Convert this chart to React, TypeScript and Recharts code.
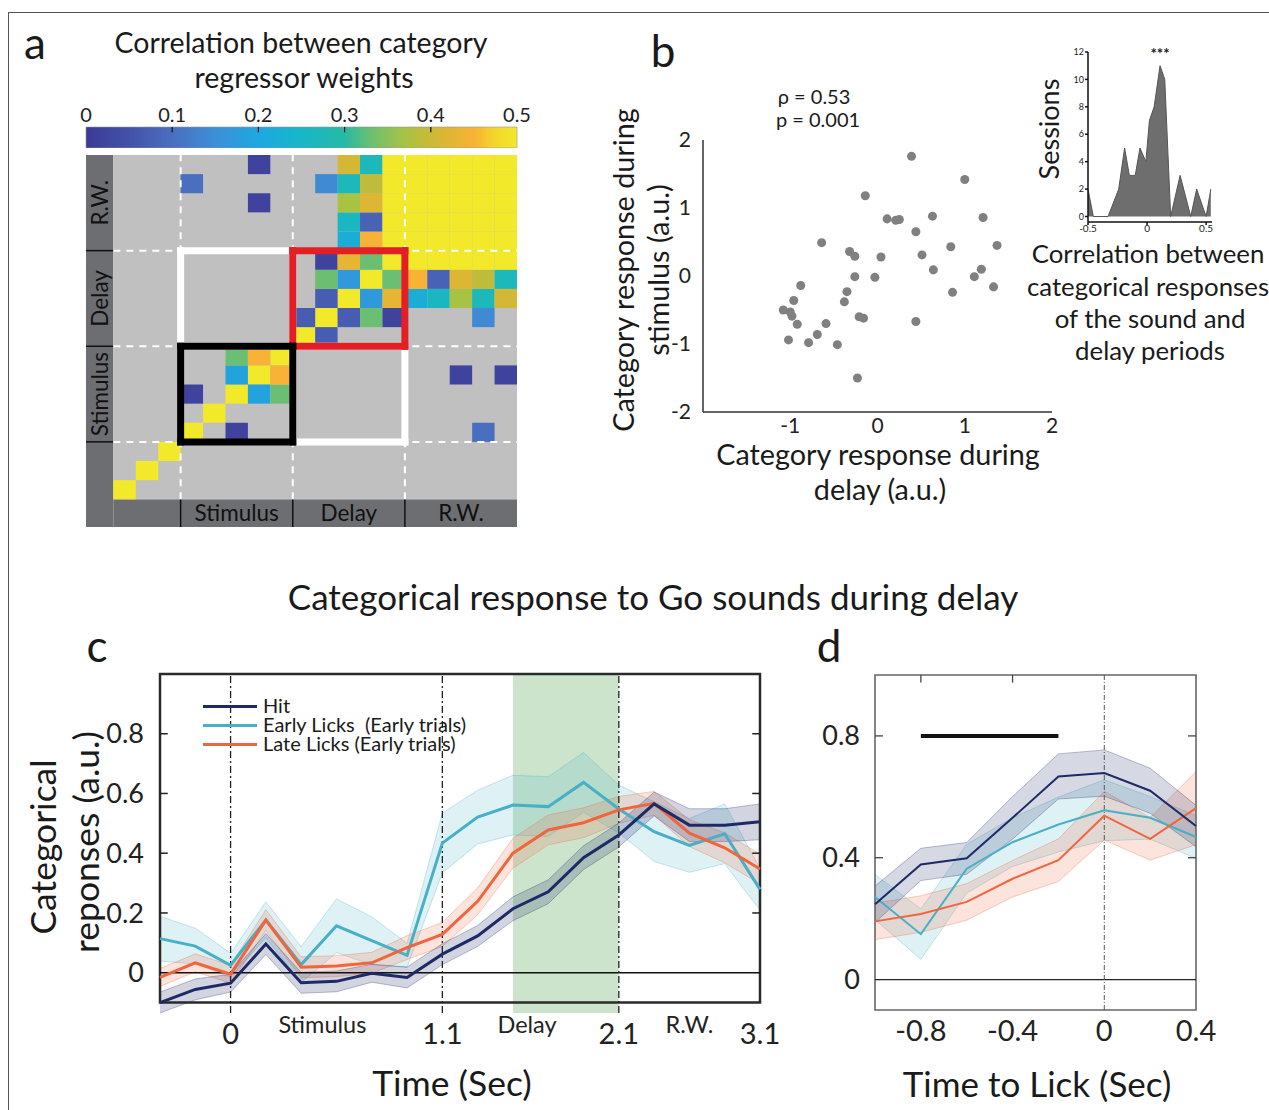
import React from "react";
import {
  ScatterChart,
  Scatter,
  XAxis,
  YAxis,
  ZAxis,
  ReferenceArea,
  ReferenceLine,
  ComposedChart,
  AreaChart,
  Area,
  Line,
} from "recharts";

const FONT = 'Lato, "Open Sans", sans-serif';

// ---------- panel a : correlation of category regressor weights ----------
const epochNames = ["Stimulus", "Delay", "R.W."];
const epochStart = [3, 8, 13];
const epochEnd = [8, 13, 18];

const cbTicks = [0, 0.1, 0.2, 0.3, 0.4, 0.5];
const cbStops = [0, 0.05, 0.1, 0.15, 0.2, 0.25, 0.3, 0.33, 0.37, 0.4, 0.43, 0.45, 0.47, 0.5];
const cbColors = [
  "#3b3a96", "#4451a8", "#4a6fc0", "#3d8fd8", "#1ca8e0", "#17b7c8", "#27b9a5",
  "#6cbf72", "#a8c344", "#cbb936", "#e6b533", "#f8b235", "#f4d22c", "#f1e92a",
];

// [column bin, row bin, r] – the matrix is symmetric, each pair listed once
const corrPairs: [number, number, number][] = [
  [0, 0, 0.5], [1, 1, 0.5], [2, 2, 0.5], [3, 3, 0.5], [4, 4, 0.5], [5, 5, 0.5],
  [6, 6, 0.5], [7, 7, 0.5], [8, 8, 0.5], [9, 9, 0.5], [10, 10, 0.5], [11, 11, 0.5],
  [3, 5, 0.02], [5, 6, 0.19], [5, 7, 0.33], [6, 7, 0.45],
  [8, 9, 0.07], [9, 10, 0.07], [9, 11, 0.33], [9, 12, 0.02], [10, 11, 0.17],
  [10, 12, 0.43], [11, 12, 0.33],
  [10, 13, 0.22], [10, 14, 0.26], [10, 15, 0.37], [10, 16, 0.27], [10, 17, 0.41],
  [11, 13, 0.45], [11, 14, 0.08], [11, 15, 0.42], [11, 16, 0.39], [11, 17, 0.27],
  [9, 16, 0.14], [3, 16, 0.1], [6, 15, 0.02], [6, 17, 0.02],
];
// late delay / reward window block, all saturated
const rwPairs: [number, number, number][] = [
  [12, 12, 0.5], [12, 13, 0.5], [12, 14, 0.5], [12, 15, 0.5], [12, 16, 0.5], [12, 17, 0.5],
  [13, 13, 0.5], [13, 14, 0.5], [13, 15, 0.5], [13, 16, 0.5], [13, 17, 0.5],
  [14, 14, 0.5], [14, 15, 0.5], [14, 16, 0.5], [14, 17, 0.5],
  [15, 15, 0.5], [15, 16, 0.5], [15, 17, 0.5],
  [16, 16, 0.5], [16, 17, 0.5], [17, 17, 0.5],
];

// ---------- panel b : per-session category responses ----------
const delayResp = [
  0.39, 1.0, -0.14, 0.11, 0.21, 0.25, 0.63, 1.21, 0.44, -0.64, 0.84, 1.37, -0.32, -0.26,
  0.04, 0.51, 0.64, 1.19, -0.26, -0.03, 1.11, 1.33, -0.88, -0.35, 0.86, -0.96, -0.38,
  -1.08, -1.0, -0.98, -0.92, -0.59, -0.21, -0.16, 0.44, -1.02, -0.79, -0.69, -0.46, -0.23,
];
const stimResp = [
  1.76, 1.42, 1.18, 0.84, 0.82, 0.83, 0.88, 0.86, 0.65, 0.49, 0.43, 0.45, 0.36, 0.29,
  0.28, 0.31, 0.09, 0.1, -0.01, -0.02, -0.01, -0.16, -0.14, -0.23, -0.24, -0.36, -0.38,
  -0.5, -0.53, -0.59, -0.71, -0.7, -0.6, -0.62, -0.67, -0.94, -0.98, -0.86, -1.01, -1.5,
];
const histCorr = [
  -0.5, -0.455, -0.33, -0.24, -0.19, -0.15, -0.1, -0.06, -0.01, 0.02, 0.06, 0.11, 0.15,
  0.2, 0.28, 0.37, 0.42, 0.5, 0.54,
];
const histSessions = [2, 0, 0, 2, 5, 3, 3, 5, 4, 7, 8, 11, 10, 0, 3, 0, 2, 0, 2];

// ---------- panel c : categorical response over the trial ----------
const timeBins = [0, 1, 2, 3, 4, 5, 6, 7, 8, 9, 10, 11, 12, 13, 14, 15, 16, 17];
const timeTickPos = [2, 8, 13, 17];
const timeTickLabels = ["0", "1.1", "2.1", "3.1"];
const phasePos = [4.6, 10.4, 15];
const phaseLabels = ["Stimulus", "Delay", "R.W."];
const delayWindow = [10, 13];

const hitC = [-0.1, -0.056, -0.035, 0.096, -0.034, -0.029, -0.002, -0.016, 0.062, 0.123, 0.214, 0.271, 0.385, 0.461, 0.565, 0.494, 0.494, 0.505];
const hitErrC = [0.035, 0.035, 0.03, 0.035, 0.035, 0.035, 0.03, 0.035, 0.035, 0.035, 0.04, 0.04, 0.04, 0.04, 0.04, 0.055, 0.055, 0.06];
const earlyC = [0.114, 0.089, 0.025, 0.177, 0.027, 0.157, 0.107, 0.058, 0.434, 0.521, 0.561, 0.556, 0.637, 0.548, 0.472, 0.426, 0.465, 0.279];
const earlyErrC = [0.075, 0.06, 0.04, 0.06, 0.06, 0.09, 0.08, 0.04, 0.1, 0.09, 0.1, 0.1, 0.1, 0.08, 0.1, 0.09, 0.1, 0.07];
const lateC = [-0.016, 0.033, -0.005, 0.176, 0.018, 0.022, 0.033, 0.084, 0.128, 0.239, 0.4, 0.478, 0.502, 0.545, 0.567, 0.467, 0.418, 0.347];
const lateErrC = [0.03, 0.03, 0.03, 0.035, 0.035, 0.035, 0.035, 0.04, 0.04, 0.045, 0.05, 0.05, 0.05, 0.045, 0.04, 0.045, 0.05, 0.05];
const cYTicks = [0, 0.2, 0.4, 0.6, 0.8];

// ---------- panel d : aligned to lick ----------
const lickTime = [-1.0, -0.8, -0.6, -0.4, -0.2, 0, 0.2, 0.4];
const hitD = [0.247, 0.378, 0.398, 0.531, 0.667, 0.678, 0.62, 0.504];
const hitErrD = [0.06, 0.053, 0.052, 0.07, 0.074, 0.076, 0.074, 0.068];
const earlyD = [0.271, 0.149, 0.364, 0.451, 0.509, 0.556, 0.531, 0.468];
const earlyErrD = [0.074, 0.083, 0.08, 0.08, 0.09, 0.1, 0.07, 0.07];
const lateD = [0.191, 0.215, 0.255, 0.331, 0.392, 0.538, 0.462, 0.563];
const lateErrD = [0.06, 0.06, 0.06, 0.06, 0.07, 0.08, 0.07, 0.12];
const dXTicks = [-0.8, -0.4, 0, 0.4];
const dYTicks = [0, 0.4, 0.8];
const sigBar = [-0.8, -0.2];
const sigLevel = 0.8;

const HIT = "#1d2a66";
const EARLY = "#47afc6";
const LATE = "#f0653d";

const hex = (h: string) => [1, 3, 5].map((i) => parseInt(h.slice(i, i + 2), 16));
function parula(v: number) {
  let k = 0;
  while (k < cbStops.length - 2 && v > cbStops[k + 1]) k++;
  const t = Math.min(1, Math.max(0, (v - cbStops[k]) / (cbStops[k + 1] - cbStops[k])));
  const a = hex(cbColors[k]);
  const b = hex(cbColors[k + 1]);
  return `rgb(${a.map((x, i) => Math.round(x + (b[i] - x) * t)).join(",")})`;
}

const T = ({ x, y, size, rot = 0, children, weight = 400 }: any) => (
  <div
    style={{
      position: "absolute",
      left: x,
      top: y,
      transform: `translate(-50%, -50%) rotate(${rot}deg)`,
      fontSize: size,
      fontWeight: weight,
      whiteSpace: "nowrap",
      lineHeight: 1.1,
    }}
  >
    {children}
  </div>
);

const Box = ({ left, top, children }: any) => (
  <div style={{ position: "absolute", left, top }}>{children}</div>
);

function rectSegs(x1: number, x2: number, y1: number, y2: number) {
  return [
    [{ x: x1, y: y1 }, { x: x2, y: y1 }],
    [{ x: x2, y: y1 }, { x: x2, y: y2 }],
    [{ x: x2, y: y2 }, { x: x1, y: y2 }],
    [{ x: x1, y: y2 }, { x: x1, y: y1 }],
  ];
}

const blockBoxes = [
  { x1: 3, x2: 8, y1: 8, y2: 13, color: "#ffffff" },
  { x1: 8, x2: 13, y1: 3, y2: 8, color: "#ffffff" },
  { x1: 8, x2: 13, y1: 8, y2: 13, color: "#e31e25" },
  { x1: 3, x2: 8, y1: 3, y2: 8, color: "#000000" },
];

function Heatmap() {
  const cells: { c: number; r: number; v: number }[] = [];
  [...corrPairs, ...rwPairs].forEach(([i, j, v]) => {
    cells.push({ c: i, r: j, v });
    if (i !== j) cells.push({ c: j, r: i, v });
  });
  const pts = cells.map((d) => ({ x: d.c + 0.5, y: d.r + 0.5 }));
  return (
    <ScatterChart width={431} height={372} margin={{ top: 0, right: 0, bottom: 0, left: 0 }}>
      <XAxis type="number" dataKey="x" domain={[-1.22, 18]} hide allowDataOverflow />
      <YAxis type="number" dataKey="y" domain={[-1.45, 18]} hide allowDataOverflow />
      <ReferenceArea x1={-1.22} x2={0} y1={-1.45} y2={18} fill="#6d6e71" fillOpacity={1} />
      <ReferenceArea x1={0} x2={18} y1={-1.45} y2={0} fill="#6d6e71" fillOpacity={1} />
      <ReferenceArea x1={0} x2={18} y1={0} y2={18} fill="#c0c0c0" fillOpacity={1} />
      {cells.map((d, k) => (
        <ReferenceArea
          key={"cell" + k}
          x1={d.c}
          x2={d.c + 1}
          y1={d.r}
          y2={d.r + 1}
          fill={parula(d.v)}
          fillOpacity={1}
        />
      ))}
      {epochNames.map((name, k) => (
        <ReferenceArea
          key={"bx" + k}
          x1={epochStart[k]}
          x2={epochEnd[k]}
          y1={-1.45}
          y2={0}
          fill="none"
          label={{ value: name, position: "center", fontSize: 22.5, fill: "#111" }}
        />
      ))}
      {epochNames.map((name, k) => (
        <ReferenceArea
          key={"by" + k}
          x1={-1.22}
          x2={0}
          y1={epochStart[k]}
          y2={epochEnd[k]}
          fill="none"
          label={{ value: name, position: "center", fontSize: 22.5, fill: "#111", angle: -90 }}
        />
      ))}
      {epochStart.map((b) => (
        <ReferenceLine key={"sx" + b} segment={[{ x: b, y: -1.45 }, { x: b, y: 0 }]} stroke="#111" strokeWidth={1.5} />
      ))}
      {epochStart.map((b) => (
        <ReferenceLine key={"sy" + b} segment={[{ x: -1.22, y: b }, { x: 0, y: b }]} stroke="#111" strokeWidth={1.5} />
      ))}
      {epochStart.map((b) => (
        <ReferenceLine key={"dx" + b} segment={[{ x: b, y: 0 }, { x: b, y: 18 }]} stroke="#fff" strokeWidth={2} strokeDasharray="7 6" />
      ))}
      {epochStart.map((b) => (
        <ReferenceLine key={"dy" + b} segment={[{ x: 0, y: b }, { x: 18, y: b }]} stroke="#fff" strokeWidth={2} strokeDasharray="7 6" />
      ))}
      {blockBoxes.map((bb, k) =>
        rectSegs(bb.x1, bb.x2, bb.y1, bb.y2).map((s, m) => (
          <ReferenceLine
            key={"box" + k + "_" + m}
            segment={s}
            stroke={bb.color}
            strokeWidth={7}
            strokeLinecap="square"
          />
        ))
      )}
      <Scatter data={pts} shape={() => <g />} isAnimationActive={false} />
    </ScatterChart>
  );
}

function ColorBar() {
  return (
    <ComposedChart width={471} height={49} data={[{ x: 0, y: 0 }]} margin={{ top: 0, right: 20, bottom: 0, left: 20 }}>
      <defs>
        <linearGradient id="parulaGrad" x1="0" y1="0" x2="1" y2="0">
          {cbStops.map((s, k) => (
            <stop key={k} offset={s / 0.5} stopColor={cbColors[k]} />
          ))}
        </linearGradient>
      </defs>
      <XAxis
        type="number"
        dataKey="x"
        orientation="top"
        domain={[0, 0.5]}
        ticks={cbTicks}
        interval={0}
        height={28}
        axisLine={false}
        tickLine={false}
        tickSize={0}
        tickMargin={5}
        tick={{ fontSize: 20, fill: "#222" }}
      />
      <YAxis type="number" dataKey="y" domain={[0, 1]} hide />
      <ReferenceArea x1={0} x2={0.5} y1={0} y2={1} fill="url(#parulaGrad)" fillOpacity={1} stroke="#999" strokeWidth={0.6} />
      {cbTicks.slice(1, -1).map((v) => (
        <ReferenceLine key={v} segment={[{ x: v, y: 0.75 }, { x: v, y: 1 }]} stroke="#111" strokeWidth={1.2} />
      ))}
    </ComposedChart>
  );
}

function ScatterPanel() {
  const pts = delayResp.map((x, i) => ({ x, y: stimResp[i] }));
  return (
    <ScatterChart width={424} height={322} margin={{ top: 20, right: 12, bottom: 0, left: 0 }}>
      <XAxis
        type="number"
        dataKey="x"
        domain={[-2, 2]}
        ticks={[-1, 0, 1, 2]}
        interval={0}
        height={30}
        tickLine={false}
        tickMargin={0}
        stroke="#333"
        strokeWidth={1.5}
        tick={{ fontSize: 21, fill: "#222" }}
      />
      <YAxis
        type="number"
        dataKey="y"
        domain={[-2, 2]}
        ticks={[-2, -1, 0, 1, 2]}
        interval={0}
        width={63}
        tickLine={false}
        tickMargin={6}
        stroke="#333"
        strokeWidth={1.5}
        tick={{ fontSize: 21, fill: "#222" }}
      />
      <ZAxis range={[30, 30]} />
      <Scatter data={pts} fill="#808080" isAnimationActive={false} />
    </ScatterChart>
  );
}

function HistInset() {
  const rows = histCorr.map((x, i) => ({ x, n: histSessions[i] }));
  return (
    <AreaChart width={154} height={198} data={rows} margin={{ top: 10, right: 5, bottom: 0, left: 0 }}>
      <XAxis
        type="number"
        dataKey="x"
        domain={[-0.5, 0.55]}
        ticks={[-0.5, 0, 0.5]}
        interval={0}
        height={18}
        tickSize={3}
        tickMargin={0}
        stroke="#111"
        strokeWidth={1.5}
        tick={{ fontSize: 10, fill: "#222" }}
      />
      <YAxis
        type="number"
        domain={[-0.4, 12]}
        ticks={[0, 2, 4, 6, 8, 10, 12]}
        interval={0}
        width={25}
        tickSize={3}
        tickMargin={1}
        stroke="#111"
        strokeWidth={1.5}
        tick={{ fontSize: 9, fill: "#222" }}
      />
      <Area type="linear" dataKey="n" baseValue={0} stroke="#555" strokeWidth={1} fill="#6e6e6e" fillOpacity={1} isAnimationActive={false} />
    </AreaChart>
  );
}

const TimeTick = (props: any) => {
  const { x, y, payload } = props;
  const i = timeTickPos.indexOf(payload.value);
  if (i >= 0)
    return (
      <text x={x} y={y + 31} textAnchor="middle" fontSize={29} fill="#222">
        {timeTickLabels[i]}
      </text>
    );
  const k = phasePos.indexOf(payload.value);
  return (
    <text x={x} y={y + 20} textAnchor="middle" fontSize={23.5} fill="#222">
      {phaseLabels[k]}
    </text>
  );
};

function TrialPanel() {
  const rows = timeBins.map((t, i) => ({
    t,
    hit: hitC[i],
    hitBand: [hitC[i] - hitErrC[i], hitC[i] + hitErrC[i]],
    early: earlyC[i],
    earlyBand: [earlyC[i] - earlyErrC[i], earlyC[i] + earlyErrC[i]],
    late: lateC[i],
    lateBand: [lateC[i] - lateErrC[i], lateC[i] + lateErrC[i]],
  }));
  return (
    <ComposedChart width={720} height={389} data={rows} margin={{ top: 10, right: 20, bottom: 0, left: 0 }}>
      <XAxis
        type="number"
        dataKey="t"
        domain={[0, 17]}
        ticks={[...timeTickPos, ...phasePos]}
        interval={0}
        height={40}
        axisLine={false}
        tickLine={false}
        tickSize={0}
        tickMargin={0}
        tick={(p: any) => <TimeTick {...p} />}
      />
      <YAxis
        type="number"
        domain={[-0.1, 1]}
        ticks={cYTicks}
        interval={0}
        width={100}
        axisLine={false}
        tickLine={false}
        tickMargin={10}
        tick={{ fontSize: 27, fill: "#222" }}
      />
      <ReferenceArea x1={delayWindow[0]} x2={delayWindow[1]} fill="#cce4cc" fillOpacity={1} />
      <Area type="linear" dataKey="earlyBand" stroke={EARLY} strokeOpacity={0.3} strokeWidth={1} fill={EARLY} fillOpacity={0.18} isAnimationActive={false} activeDot={false} />
      <Area type="linear" dataKey="lateBand" stroke={LATE} strokeOpacity={0.3} strokeWidth={1} fill={LATE} fillOpacity={0.18} isAnimationActive={false} activeDot={false} />
      <Area type="linear" dataKey="hitBand" stroke={HIT} strokeOpacity={0.3} strokeWidth={1} fill={HIT} fillOpacity={0.2} isAnimationActive={false} activeDot={false} />
      <ReferenceLine y={0} stroke="#111" strokeWidth={1.5} />
      {timeTickPos.slice(0, 3).map((v) => (
        <ReferenceLine key={v} x={v} stroke="#222" strokeWidth={1.3} strokeDasharray="7 3 2 3" />
      ))}
      <Line type="linear" dataKey="early" stroke={EARLY} strokeWidth={3} dot={false} isAnimationActive={false} />
      <Line type="linear" dataKey="late" stroke={LATE} strokeWidth={3} dot={false} isAnimationActive={false} />
      <Line type="linear" dataKey="hit" stroke={HIT} strokeWidth={3} dot={false} isAnimationActive={false} />
      {cYTicks.slice(1).map((v) => (
        <ReferenceLine key={"l" + v} segment={[{ x: 0, y: v }, { x: 0.22, y: v }]} stroke="#222" strokeWidth={1.5} />
      ))}
      {cYTicks.slice(1).map((v) => (
        <ReferenceLine key={"r" + v} segment={[{ x: 16.78, y: v }, { x: 17, y: v }]} stroke="#222" strokeWidth={1.5} />
      ))}
      <ReferenceArea x1={0} x2={17} y1={-0.1} y2={1} fill="none" stroke="#2a2a2a" strokeWidth={2.5} />
    </ComposedChart>
  );
}

function LickPanel() {
  const rows = lickTime.map((t, i) => ({
    t,
    hit: hitD[i],
    hitBand: [hitD[i] - hitErrD[i], hitD[i] + hitErrD[i]],
    early: earlyD[i],
    earlyBand: [earlyD[i] - earlyErrD[i], earlyD[i] + earlyErrD[i]],
    late: lateD[i],
    lateBand: [lateD[i] - lateErrD[i], lateD[i] + lateErrD[i]],
  }));
  return (
    <ComposedChart width={416} height={385} data={rows} margin={{ top: 10, right: 20, bottom: 0, left: 0 }}>
      <XAxis
        type="number"
        dataKey="t"
        domain={[-1, 0.4]}
        ticks={dXTicks}
        interval={0}
        height={40}
        axisLine={false}
        tickLine={false}
        tickMargin={4}
        tick={{ fontSize: 29, fill: "#222" }}
      />
      <YAxis
        type="number"
        domain={[-0.1, 1]}
        ticks={dYTicks}
        interval={0}
        width={75}
        axisLine={false}
        tickLine={false}
        tickMargin={9}
        tick={{ fontSize: 27, fill: "#222" }}
      />
      <Area type="linear" dataKey="earlyBand" stroke={EARLY} strokeOpacity={0.3} strokeWidth={1} fill={EARLY} fillOpacity={0.18} isAnimationActive={false} activeDot={false} />
      <Area type="linear" dataKey="lateBand" stroke={LATE} strokeOpacity={0.3} strokeWidth={1} fill={LATE} fillOpacity={0.18} isAnimationActive={false} activeDot={false} />
      <Area type="linear" dataKey="hitBand" stroke={HIT} strokeOpacity={0.3} strokeWidth={1} fill={HIT} fillOpacity={0.18} isAnimationActive={false} activeDot={false} />
      <ReferenceLine y={0} stroke="#222" strokeWidth={1.2} />
      <ReferenceLine x={0} stroke="#555" strokeWidth={1} strokeDasharray="5 2 1 2" />
      <Line type="linear" dataKey="early" stroke={EARLY} strokeWidth={2} dot={false} isAnimationActive={false} />
      <Line type="linear" dataKey="late" stroke={LATE} strokeWidth={2} dot={false} isAnimationActive={false} />
      <Line type="linear" dataKey="hit" stroke={HIT} strokeWidth={2} dot={false} isAnimationActive={false} />
      <ReferenceLine segment={[{ x: sigBar[0], y: sigLevel }, { x: sigBar[1], y: sigLevel }]} stroke="#111" strokeWidth={4} />
      {dYTicks.slice(1).map((v) => (
        <ReferenceLine key={"l" + v} segment={[{ x: -1, y: v }, { x: -0.965, y: v }]} stroke="#444" strokeWidth={1.3} />
      ))}
      {dYTicks.slice(1).map((v) => (
        <ReferenceLine key={"r" + v} segment={[{ x: 0.365, y: v }, { x: 0.4, y: v }]} stroke="#444" strokeWidth={1.3} />
      ))}
      {dXTicks.slice(0, 2).map((v) => (
        <ReferenceLine key={"t" + v} segment={[{ x: v, y: 1 }, { x: v, y: 0.975 }]} stroke="#444" strokeWidth={1.3} />
      ))}
      <ReferenceArea x1={-1} x2={0.4} y1={-0.1} y2={1} fill="none" stroke="#666" strokeWidth={1.6} />
    </ComposedChart>
  );
}

const legendItems = [
  { label: "Hit", color: HIT },
  { label: "Early Licks  (Early trials)", color: EARLY },
  { label: "Late Licks (Early trials)", color: LATE },
];

export default function App() {
  return (
    <div
      style={{
        position: "absolute",
        left: 0,
        top: 0,
        width: 1269,
        height: 1110,
        background: "#fff",
        fontFamily: FONT,
        color: "#1a1a1a",
        overflow: "hidden",
      }}
    >
      <div
        style={{
          position: "absolute",
          left: 8,
          top: 12,
          width: 1300,
          height: 1200,
          borderTop: "1.5px solid #555",
          borderLeft: "1.5px solid #555",
        }}
      />

      {/* panel letters */}
      <T x={35} y={42} size={44}>a</T>
      <T x={663} y={50} size={44}>b</T>
      <T x={97} y={645} size={44}>c</T>
      <T x={829} y={645} size={44}>d</T>

      {/* panel a */}
      <T x={301} y={43} size={28.5}>Correlation between category</T>
      <T x={304} y={78} size={28.5}>regressor weights</T>
      <Box left={66} top={99}>
        <ColorBar />
      </Box>
      <Box left={86} top={155}>
        <Heatmap />
      </Box>

      {/* panel b */}
      <T x={814} y={96} size={20}>ρ = 0.53</T>
      <T x={818} y={119} size={20}>p = 0.001</T>
      <Box left={640} top={120}>
        <ScatterPanel />
      </Box>
      <T x={624} y={270} size={28.8} rot={-90}>Category response during</T>
      <T x={659} y={270} size={28.8} rot={-90}>stimulus (a.u.)</T>
      <T x={878} y={455} size={28.8}>Category response during</T>
      <T x={880} y={490} size={28.8}>delay (a.u.)</T>

      <Box left={1063} top={42}>
        <HistInset />
      </Box>
      <T x={1160} y={53} size={15} weight={700}>***</T>
      <T x={1049} y={129} size={27} rot={-90}>Sessions</T>
      <T x={1148} y={253} size={25.8}>Correlation between</T>
      <T x={1148} y={286} size={25.8}>categorical responses</T>
      <T x={1150} y={318} size={25.8}>of the sound and</T>
      <T x={1150} y={350} size={25.8}>delay periods</T>

      {/* panel c & d */}
      <T x={653} y={596} size={35}>Categorical response to Go sounds during delay</T>
      <Box left={60} top={664}>
        <TrialPanel />
      </Box>
      {legendItems.map((it, k) => (
        <div key={it.label}>
          <div
            style={{
              position: "absolute",
              left: 203,
              top: 705 + k * 19,
              width: 54,
              height: 3,
              background: it.color,
            }}
          />
          <div
            style={{
              position: "absolute",
              left: 263,
              top: 695 + k * 19,
              fontSize: 20,
              lineHeight: "21px",
              whiteSpace: "pre",
            }}
          >
            {it.label}
          </div>
        </div>
      ))}
      <T x={43} y={847} size={35.5} rot={-90}>Categorical</T>
      <T x={86} y={842} size={35.5} rot={-90}>reponses (a.u.)</T>
      <T x={452} y={1083} size={35.5}>Time (Sec)</T>

      <Box left={800} top={665}>
        <LickPanel />
      </Box>
      <T x={1037} y={1083} size={35}>Time to Lick (Sec)</T>
    </div>
  );
}
